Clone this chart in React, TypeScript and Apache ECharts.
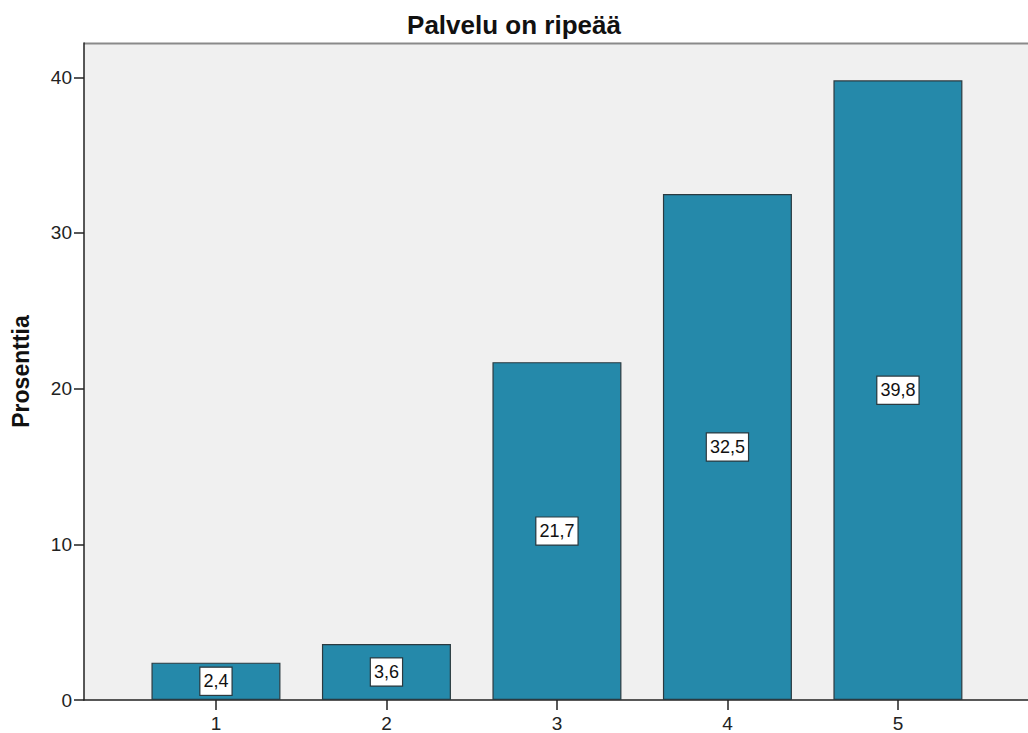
import React, { useEffect, useRef } from "react";
import * as echarts from "echarts";

// Response categories (1–5) and share of answers in percent
const categories = [1, 2, 3, 4, 5];
const percentages = [2.4, 3.6, 21.7, 32.5, 39.8];
const yTicks = [0, 10, 20, 30, 40];

const fmt = (v: number) => v.toFixed(1).replace(".", ",");

export default function App() {
  const ref = useRef<HTMLDivElement>(null);

  useEffect(() => {
    if (!ref.current) return;
    const chart = echarts.init(ref.current, undefined, { renderer: "svg" });
    const font = "'Liberation Sans', Arial, sans-serif";
    chart.setOption({
      animation: false,
      backgroundColor: "#ffffff",
      title: {
        text: "Palvelu on ripeää",
        left: "center",
        top: 7,
        textStyle: { fontFamily: font, fontSize: 26, fontWeight: "bold", color: "#111" },
      },
      grid: { left: 84, top: 43, right: 0, bottom: 30, show: true, backgroundColor: "#f0f0f0", borderWidth: 0 },
      xAxis: {
        type: "value",
        min: 0.226,
        max: 5.763,
        splitLine: { show: false },
        axisLine: { show: true, lineStyle: { color: "#222", width: 1.5 } },
        axisTick: { show: true, length: 10, customValues: categories, lineStyle: { color: "#222", width: 1.5 } },
        axisLabel: {
          customValues: categories,
          margin: 14,
          fontFamily: font,
          fontSize: 19,
          color: "#222",
          formatter: (v: number) => String(v),
        },
      },
      yAxis: {
        type: "value",
        min: 0,
        max: 42.2,
        name: "Prosenttia",
        nameLocation: "middle",
        nameGap: 52,
        nameTextStyle: { fontFamily: font, fontSize: 23, fontWeight: "bold", color: "#111" },
        splitLine: { show: false },
        axisLine: { show: true, lineStyle: { color: "#222", width: 1.5 } },
        axisTick: { show: true, length: 10, customValues: yTicks, lineStyle: { color: "#222", width: 1.5 } },
        axisLabel: { customValues: yTicks, margin: 12, fontFamily: font, fontSize: 19, color: "#222" },
      },
      graphic: [
        {
          type: "line",
          shape: { x1: 84, y1: 43.5, x2: 1028, y2: 43.5 },
          style: { stroke: "#8a8a8a", lineWidth: 2 },
          silent: true,
        },
      ],
      series: [
        {
          type: "bar",
          barWidth: 129,
          data: categories.map((c, i) => [c, percentages[i]]),
          itemStyle: { color: "#2589aa", borderColor: "#2b3a40", borderWidth: 1.2 },
          label: {
            show: true,
            position: "inside",
            formatter: (p: any) => fmt(p.value[1]),
            fontFamily: font,
            fontSize: 18,
            color: "#111",
            backgroundColor: "#ffffff",
            borderColor: "#2b3a40",
            borderWidth: 1.2,
            padding: [5, 3, 4, 3],
          },
        },
      ],
    });
    return () => chart.dispose();
  }, []);

  return (
    <div
      ref={ref}
      style={{ position: "fixed", left: 0, top: 0, width: 1028, height: 733 }}
    />
  );
}
